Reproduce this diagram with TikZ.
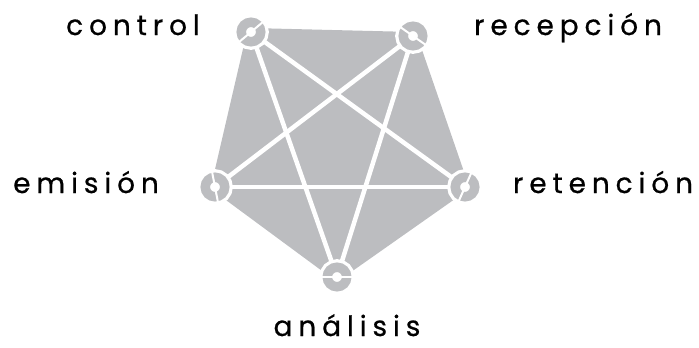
\documentclass[tikz,border=0pt]{standalone}
\usepackage{fontspec}
\newfontfamily\rotulo[LetterSpace=21,FakeBold=0.6]{Poppins}
\usetikzlibrary{backgrounds}
\definecolor{grisfondo}{HTML}{BCBDC0}
\tikzset{
  vertice/.style={circle,draw=grisfondo,line width=9.5pt,minimum size=19.5pt,inner sep=0pt,fill=white,preaction={draw=white,line width=16pt}},
  arista/.style={draw=white,line width=4.5pt},
  ranura/.style={draw=white,line width=2pt},
  etiqueta/.style={font=\rotulo\fontsize{28}{32}\selectfont,anchor=base}
}
\begin{document}
\begin{tikzpicture}[x=1pt,y=-1pt]
        \useasboundingbox (0,0) rectangle (699,348);
        \node[vertice] (control) at (251,32) {};
        \node[vertice] (recepcion) at (413,36) {};
        \node[vertice] (retencion) at (465,187) {};
        \node[vertice] (analisis) at (337,277) {};
        \node[vertice] (emision) at (215,187) {};
        \begin{scope}[on background layer]
        \filldraw[grisfondo,line width=8pt,line join=round] (control.center) -- (recepcion.center) -- (retencion.center) -- (analisis.center) -- (emision.center) -- cycle;
        \draw[arista] (control.center) -- (retencion.center);
        \draw[arista] (control.center) -- (analisis.center);
        \draw[arista] (recepcion.center) -- (emision.center);
        \draw[arista] (recepcion.center) -- (analisis.center);
        \draw[arista] (emision.center) -- (retencion.center);
        \end{scope}
        \draw[ranura] (control.center) ++(-40:16) -- ++(140:32);
        \draw[ranura] (recepcion.center) ++(35:16) -- ++(215:32);
        \draw[ranura] (retencion.center) ++(114:16) -- ++(294:32);
        \draw[ranura] (analisis.center) ++(0:16) -- ++(180:32);
        \draw[ranura] (emision.center) ++(79:16) -- ++(259:32);
        \node[etiqueta] (tcontrol) at (133,35) {control};
        \node[etiqueta] (trecepcion) at (568,35) {recepción};
        \node[etiqueta] (temision) at (86,193) {emisión};
        \node[etiqueta] (tretencion) at (603,193) {retención};
        \node[etiqueta] (tanalisis) at (347,336) {análisis};
    \end{tikzpicture}
\end{document}
